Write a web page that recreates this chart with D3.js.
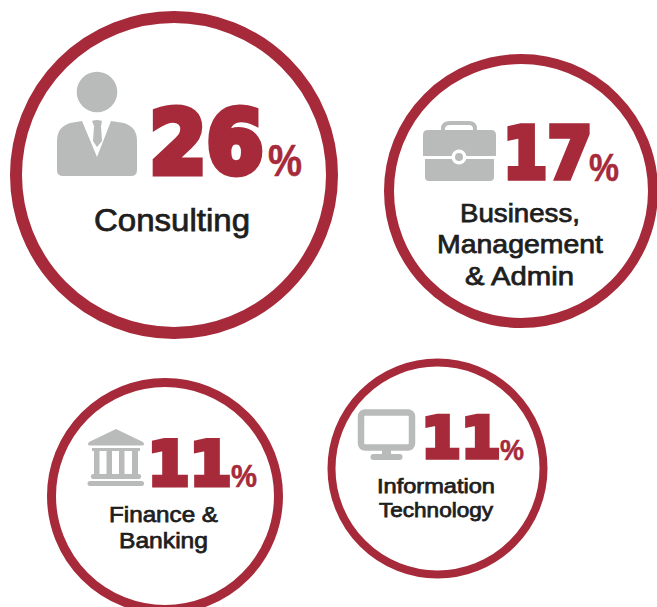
<!DOCTYPE html>
<html>
<head>
<meta charset="utf-8">
<script src="https://cdn.jsdelivr.net/npm/d3@7"></script>
<style>html,body{margin:0;padding:0;background:#fff;overflow:hidden}svg{display:block}</style>
</head>
<body>
<svg id="c" width="657" height="607"></svg>
<script>
// Data
const categories = ["Consulting", "Business, Management & Admin", "Finance & Banking", "Information Technology"];
const values = [26, 17, 11, 11];
const labelLines = [["Consulting"], ["Business,", "Management", "& Admin"], ["Finance &", "Banking"], ["Information", "Technology"]];
const icons = ["person", "briefcase", "bank", "monitor"];

// Layout (separate from data)
const circles = [[174, 175, 158, 12], [521, 191, 132, 10], [165, 496, 113.5, 9], [437.5, 468.5, 106, 8]];
const numBoxes = [[146, 176, 121, 87], [500, 181, 95, 71], [145, 487, 89, 60], [419, 460, 84, 57]];
const pctBoxes = [[268, 176, 34, 45], [589, 181, 30, 38], [231, 487, 26, 31], [500, 460, 24, 30]];
const labelBoxes = [
  [[94, 231, 156, 31]],
  [[460, 222, 120, 25.5], [437, 253, 166, 25.5], [465, 285, 109, 25.5]],
  [[109, 522, 109, 22], [119, 548, 89, 22]],
  [[377, 493, 118, 20], [379, 517, 114, 20]]
];
const RED = "#a62a3a", GRAY = "#b9bbba", INK = "#1e1e1e";
const svg = d3.select("#c");

function fit(sel, box) {
  return sel.attr("x", box[0]).attr("y", box[1]).attr("font-size", box[3])
    .attr("textLength", box[2]).attr("lengthAdjust", "spacingAndGlyphs");
}

const drawIcon = {
  person(g) {
    g.append("circle").attr("cx", 97).attr("cy", 92).attr("r", 20.3).attr("fill", GRAY);
    g.append("path").attr("fill", GRAY).attr("d",
      "M82 121 L97 157 L111 121 L124 123 Q137 127 137 141 L137 170 Q137 176 131 176 L63 176 Q57 176 57 170 L57 141 Q57 127 70 123 Z");
    g.append("path").attr("fill", GRAY).attr("d",
      "M92 121 Q97 119 102 121 L101 126 L102 141 L97 147 L93 141 L94 126 Z");
  },
  briefcase(g) {
    g.append("path").attr("fill", "none").attr("stroke", GRAY).attr("stroke-width", 4)
      .attr("d", "M443 132 L443 129 Q443 123 450 123 L469 123 Q475 123 475 129 L475 132");
    g.append("path").attr("fill", GRAY).attr("d",
      "M428 130 L491 130 Q496 130 496 135 L496 156 L423 156 L423 135 Q423 130 428 130 Z");
    g.append("path").attr("fill", GRAY).attr("d",
      "M425 159 L494 159 L494 177 Q494 181 490 181 L429 181 Q425 181 425 177 Z");
    g.append("circle").attr("cx", 459).attr("cy", 157).attr("r", 7.5).attr("fill", "#fff");
    g.append("circle").attr("cx", 459).attr("cy", 157).attr("r", 4).attr("fill", GRAY);
  },
  bank(g) {
    g.append("path").attr("fill", GRAY).attr("d", "M116 429 L143 442 Q145.5 445.5 142 445.5 L90 445.5 Q86.5 445.5 89 442 Z");
    [[94, 5.5], [106.5, 5.5], [119, 5.5], [132, 6]].forEach(c => {
      g.append("rect").attr("x", c[0]).attr("y", 448).attr("width", c[1]).attr("height", 27).attr("fill", GRAY);
    });
    g.append("rect").attr("x", 92).attr("y", 448).attr("width", 48).attr("height", 3).attr("fill", GRAY);
    g.append("rect").attr("x", 91).attr("y", 474).attr("width", 50).attr("height", 5).attr("rx", 2).attr("fill", GRAY);
    g.append("rect").attr("x", 87.5).attr("y", 481).attr("width", 56.5).attr("height", 5).attr("rx", 2.5).attr("fill", GRAY);
  },
  monitor(g) {
    g.append("rect").attr("x", 361).attr("y", 412.5).attr("width", 51).attr("height", 35).attr("rx", 4)
      .attr("fill", "#fff").attr("stroke", GRAY).attr("stroke-width", 6.5);
    g.append("rect").attr("x", 382).attr("y", 450).attr("width", 9).attr("height", 6).attr("fill", GRAY);
    g.append("rect").attr("x", 370.5).attr("y", 454).attr("width", 32).attr("height", 6).attr("rx", 3).attr("fill", GRAY);
  }
};

values.forEach((v, i) => {
  const g = svg.append("g").attr("aria-label", categories[i]);
  const c = circles[i];
  g.append("circle").attr("cx", c[0]).attr("cy", c[1]).attr("r", c[2])
    .attr("fill", "#fff").attr("stroke", RED).attr("stroke-width", c[3]);
  drawIcon[icons[i]](g);
  const nb = numBoxes[i], sw = nb[3] * 0.08;
  fit(g.append("text"), [nb[0] + sw / 2, nb[1] - sw / 2, nb[2] - sw, nb[3]]).text(v)
    .attr("font-family", "'DejaVu Sans'").attr("font-weight", 700)
    .attr("fill", RED).attr("stroke", RED).attr("stroke-width", sw).attr("stroke-linejoin", "miter");
  fit(g.append("text"), pctBoxes[i]).text("%")
    .attr("font-family", "'Liberation Sans'").attr("font-weight", 700).attr("fill", RED)
    .attr("stroke", RED).attr("stroke-width", 0.5);
  labelLines[i].forEach((t, j) => {
    fit(g.append("text"), labelBoxes[i][j]).text(t)
      .attr("font-family", "'Liberation Sans'").attr("font-weight", 400)
      .attr("fill", INK).attr("stroke", INK).attr("stroke-width", 0.75);
  });
});
</script>
</body>
</html>
